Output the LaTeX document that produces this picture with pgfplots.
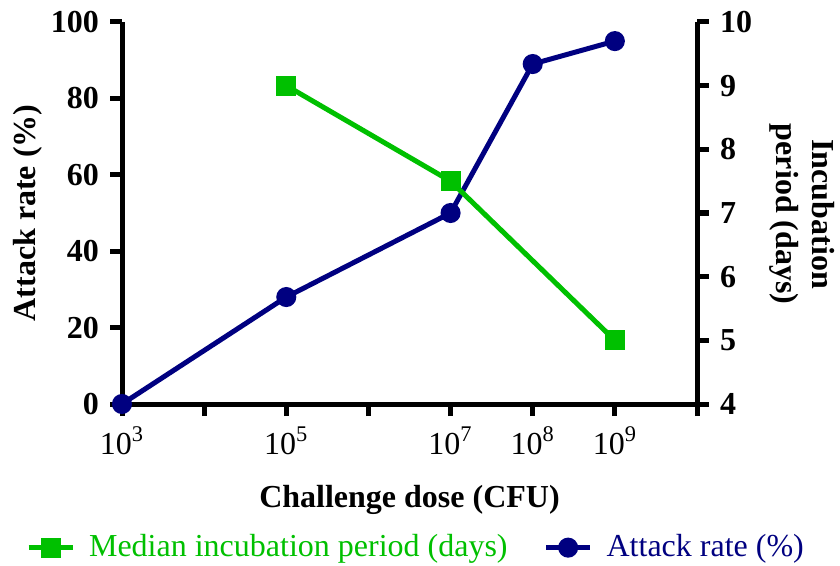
\documentclass[border=0pt]{standalone}
\usepackage{fontspec}
\setmainfont{Liberation Serif}
\usepackage{pgfplots}
\pgfplotsset{compat=1.18}
\definecolor{incgreen}{RGB}{0,192,0}
\definecolor{atknavy}{RGB}{0,0,128}

\pgfplotsset{
  dualbase/.style={
    scale only axis, width=287.5pt, height=191pt,
    at={(0,0)}, anchor=south west,
    xmin=1e3, xmax=1e10, xminorticks=false,
    axis line style={-, line width=2.5pt},
    every tick/.style={black, line width=2.5pt},
    major tick length=6pt,
    tick align=outside,
    /pgf/number format/assume math mode=true,
    yticklabel style={font=\fontsize{16}{19}\selectfont\bfseries},
    xticklabel style={font=\fontsize{16}{19}\selectfont},
    clip=false,
  },
  legend image code/.code={
    \draw[mark repeat=2, mark phase=2, #1]
      plot coordinates {(0pt,0pt) (11pt,0pt) (22pt,0pt)};
  },
}

\begin{document}
\fontsize{16}{19}\selectfont
\begin{tikzpicture}
% overall canvas
\path (-61pt,-79pt) rectangle (359pt,202pt);

% left axis: attack rate
\begin{axis}[xmode=log, dualbase,
  axis x line*=bottom, axis y line*=left,
  ymin=0, ymax=100, ytick={0,20,...,100},
  xtick={1e3,1e4,1e5,1e6,1e7,1e8,1e9,1e10},
  xticklabels={10\textsuperscript{3},,10\textsuperscript{5},,10\textsuperscript{7},10\textsuperscript{8},10\textsuperscript{9},},
  every axis x label/.style={at={(axis description cs:0.5,-0.25)}, anchor=center, inner sep=0pt, font=\fontsize{16}{19}\selectfont\bfseries},
  every axis y label/.style={at={(axis description cs:-0.163,0.5)}, anchor=center, inner sep=0pt, rotate=90, font=\fontsize{16}{19}\selectfont\bfseries},
  xlabel={Challenge dose (CFU)},
  ylabel={Attack rate (\%)},
]
\addplot[atknavy, line width=2.5pt, mark=*, mark size=3.75pt]
  coordinates {(1e3,0) (1e5,28) (1e7,50) (1e8,89) (1e9,95)};
\end{axis}

% right axis: incubation period
\begin{axis}[xmode=log, dualbase,
  axis x line=none, axis y line*=right,
  ymin=4, ymax=10, ytick={4,5,...,10},
  every axis y label/.style={at={(axis description cs:1.183,0.497)}, anchor=center, inner sep=0pt, rotate=-90, align=center, font=\fontsize{16}{18}\selectfont\bfseries},
  ylabel={Incubation\\period (days)},
  legend style={at={(0.513,-0.376)}, anchor=center, draw=none, fill=none,
    inner sep=0pt, legend columns=2, font=\fontsize{16}{19}\selectfont,
    /tikz/every odd column/.append style={column sep=5pt},
    /tikz/every even column/.append style={column sep=16pt}},
]
\addplot[incgreen, line width=2.5pt, mark=square*, mark size=3.75pt]
  coordinates {(1e5,9) (1e7,7.5) (1e9,5)};
\addlegendentry{\textcolor{incgreen}{Median incubation period (days)}}
\addlegendimage{atknavy, line width=2.5pt, mark=*, mark size=3.75pt}
\addlegendentry{\textcolor{atknavy}{Attack rate (\%)}}
\end{axis}
\end{tikzpicture}
\end{document}
